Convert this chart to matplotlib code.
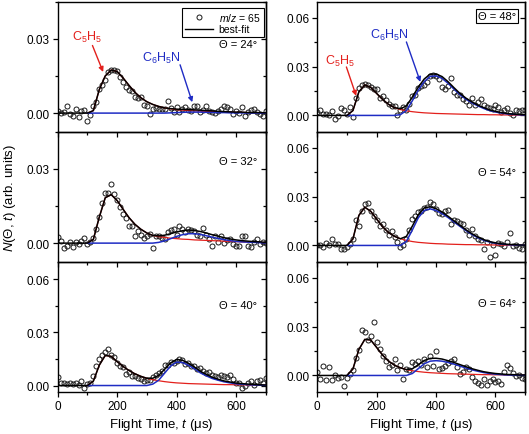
import numpy as np
import matplotlib
matplotlib.use('Agg')
import matplotlib.pyplot as plt
from matplotlib.lines import Line2D
from matplotlib.ticker import MultipleLocator, FormatStrFormatter

plt.rcParams['font.family'] = ['Liberation Sans', 'DejaVu Sans']
plt.rcParams['mathtext.fontset'] = 'custom'
plt.rcParams['mathtext.rm'] = 'Liberation Sans'
plt.rcParams['mathtext.it'] = 'Liberation Sans:italic'
plt.rcParams['mathtext.bf'] = 'Liberation Sans:bold'

# ---------------- data ----------------
T_POINTS = list(range(0, 701, 10))   # flight time of data points (us)
T_FIT = list(range(0, 701, 20))      # flight time of fit curves (us)
ANGLES = [24, 32, 40, 48, 54, 64]

DATA_24 = [0.0010, 0.0000, 0.0005, 0.0028, -0.0005, -0.0010, 0.0015, -0.0015, 0.0008, 0.0012,
           -0.0030, -0.0007, 0.0028, 0.0045, 0.0098, 0.0115, 0.0135, 0.0165, 0.0175, 0.0175,
           0.0170, 0.0145, 0.0125, 0.0105, 0.0095, 0.0088, 0.0065, 0.0062, 0.0063, 0.0033,
           0.0030, -0.0005, 0.0018, 0.0020, 0.0017, 0.0018, 0.0015, 0.0050, 0.0022, 0.0004,
           0.0024, 0.0005, 0.0017, 0.0024, 0.0012, 0.0007, 0.0028, 0.0030, 0.0004, 0.0013,
           0.0027, 0.0008, 0.0004, 0.0001, 0.0010, 0.0017, 0.0028, 0.0024, 0.0015, -0.0003,
           0.0010, 0.0001, 0.0024, -0.0012, 0.0004, 0.0011, 0.0018, 0.0005, -0.0003, -0.0010,
           0.0008]
DATA_32 = [0.0023, 0.0009, -0.0021, -0.0013, 0.0005, -0.0017, 0.0003, -0.0004, 0.0009, 0.0019,
           -0.0004, 0.0003, 0.0019, 0.0056, 0.0107, 0.0163, 0.0201, 0.0204, 0.0237, 0.0200,
           0.0174, 0.0147, 0.0117, 0.0103, 0.0070, 0.0070, 0.0029, 0.0050, 0.0032, 0.0019,
           0.0029, 0.0036, -0.0021, 0.0029, 0.0027, 0.0019, 0.0016, 0.0043, 0.0054, 0.0056,
           0.0032, 0.0070, 0.0056, 0.0046, 0.0059, 0.0054, 0.0050, 0.0032, 0.0029, 0.0062,
           0.0032, 0.0016, -0.0013, 0.0027, 0.0005, 0.0029, 0.0000, 0.0013, 0.0016, -0.0004,
           -0.0011, -0.0013, 0.0027, 0.0027, -0.0011, -0.0016, 0.0005, 0.0016, -0.0004, 0.0005,
           0.0000]
DATA_40 = [0.0047, 0.0015, 0.0015, 0.0009, 0.0015, 0.0009, 0.0015, 0.0004, 0.0025, -0.0015,
           0.0009, 0.0015, 0.0056, 0.0113, 0.0150, 0.0173, 0.0191, 0.0205, 0.0175, 0.0160,
           0.0128, 0.0113, 0.0103, 0.0066, 0.0075, 0.0056, 0.0053, 0.0041, 0.0038, 0.0023,
           0.0030, 0.0034, 0.0047, 0.0060, 0.0071, 0.0084, 0.0116, 0.0116, 0.0135, 0.0128,
           0.0141, 0.0150, 0.0144, 0.0122, 0.0128, 0.0113, 0.0109, 0.0094, 0.0098, 0.0084,
           0.0071, 0.0075, 0.0060, 0.0053, 0.0047, 0.0060, 0.0053, 0.0047, 0.0060, 0.0038,
           0.0015, 0.0015, -0.0015, -0.0004, 0.0015, 0.0028, 0.0004, 0.0028, 0.0034, 0.0015,
           0.0045]
DATA_48 = [0.0021, 0.0031, 0.0010, 0.0010, 0.0000, 0.0025, -0.0021, -0.0004, 0.0045, 0.0031,
           0.0010, 0.0051, -0.0010, 0.0107, 0.0168, 0.0185, 0.0193, 0.0189, 0.0174, 0.0164,
           0.0160, 0.0107, 0.0119, 0.0092, 0.0072, 0.0057, 0.0057, 0.0000, 0.0031, 0.0051,
           0.0031, 0.0072, 0.0119, 0.0127, 0.0168, 0.0180, 0.0189, 0.0205, 0.0242, 0.0250,
           0.0242, 0.0226, 0.0174, 0.0164, 0.0180, 0.0230, 0.0144, 0.0127, 0.0123, 0.0103,
           0.0086, 0.0066, 0.0107, 0.0066, 0.0082, 0.0103, 0.0062, 0.0051, 0.0045, 0.0041,
           0.0062, 0.0051, 0.0021, 0.0031, 0.0045, 0.0016, 0.0004, 0.0031, 0.0025, 0.0035,
           0.0031]
DATA_54 = [0.0000, 0.0004, -0.0010, 0.0016, 0.0004, 0.0041, 0.0010, 0.0010, -0.0020, -0.0024,
           -0.0010, 0.0010, 0.0041, 0.0159, 0.0122, 0.0214, 0.0255, 0.0261, 0.0214, 0.0180,
           0.0159, 0.0122, 0.0133, 0.0092, 0.0065, 0.0086, 0.0051, 0.0024, -0.0010, 0.0004,
           0.0041, 0.0092, 0.0163, 0.0180, 0.0204, 0.0214, 0.0228, 0.0235, 0.0265, 0.0255,
           0.0224, 0.0200, 0.0192, 0.0214, 0.0218, 0.0133, 0.0159, 0.0151, 0.0139, 0.0133,
           0.0092, 0.0065, 0.0102, 0.0061, 0.0041, 0.0031, -0.0024, 0.0020, -0.0070, 0.0004,
           -0.0057, 0.0016, 0.0010, -0.0004, 0.0024, 0.0078, -0.0004, 0.0004, -0.0016, -0.0024,
           0.0010]
DATA_64 = [0.0020, -0.0024, 0.0061, -0.0025, 0.0050, -0.0030, 0.0000, -0.0016, -0.0010, -0.0065,
           -0.0016, 0.0010, 0.0031, 0.0106, 0.0159, 0.0282, 0.0265, 0.0220, 0.0245, 0.0330,
           0.0204, 0.0163, 0.0122, 0.0092, 0.0051, 0.0065, 0.0102, 0.0031, 0.0065, -0.0024,
           0.0041, 0.0031, 0.0082, 0.0071, 0.0092, 0.0065, 0.0102, 0.0051, 0.0118, 0.0061,
           0.0153, 0.0041, 0.0045, 0.0061, 0.0078, 0.0086, 0.0102, 0.0051, 0.0010, 0.0020,
           0.0051, 0.0041, -0.0010, -0.0031, -0.0045, -0.0057, -0.0020, -0.0057, -0.0037, -0.0020,
           -0.0041, -0.0031, -0.0051, 0.0024, 0.0065, 0.0045, 0.0016, -0.0004, 0.0000, -0.0016,
           -0.0024]

# C5H5 component (red)
C5H5_24 = [0, 0, 0, 0, 0, 0, 0.0010, 0.0095, 0.0150, 0.0174, 0.0168, 0.0142, 0.0112, 0.0084,
           0.0062, 0.0046, 0.0035, 0.0027, 0.0021, 0.0017, 0.0014, 0.0012, 0.0010, 0.0009,
           0.0008, 0.0007, 0.0006, 0.0005, 0.0004, 0.0004, 0.0003, 0.0003, 0.0002, 0.0002,
           0.0002, 0.0001]
C5H5_32 = [0, 0, 0, 0, 0, 0, 0.0015, 0.0105, 0.0183, 0.0196, 0.0172, 0.0137, 0.0103, 0.0076,
           0.0056, 0.0041, 0.0031, 0.0026, 0.0023, 0.0020, 0.0018, 0.0016, 0.0015, 0.0013,
           0.0012, 0.0011, 0.0010, 0.0009, 0.0008, 0.0007, 0.0006, 0.0005, 0.0004, 0.0003,
           0.0003, 0.0002]
C5H5_40 = [0, 0, 0, 0, 0, 0, 0.0025, 0.0115, 0.0170, 0.0165, 0.0135, 0.0108, 0.0085, 0.0066,
           0.0052, 0.0041, 0.0033, 0.0027, 0.0022, 0.0018, 0.0015, 0.0013, 0.0011, 0.0010,
           0.0009, 0.0008, 0.0007, 0.0006, 0.0005, 0.0005, 0.0004, 0.0004, 0.0003, 0.0003,
           0.0002, 0.0002]
C5H5_48 = [0, 0, 0, 0, 0, 0, 0.0030, 0.0145, 0.0188, 0.0172, 0.0135, 0.0098, 0.0068, 0.0048,
           0.0036, 0.0028, 0.0023, 0.0019, 0.0016, 0.0014, 0.0012, 0.0011, 0.0010, 0.0009,
           0.0008, 0.0007, 0.0006, 0.0005, 0.0005, 0.0004, 0.0004, 0.0003, 0.0003, 0.0002,
           0.0002, 0.0002]
C5H5_54 = [0, 0, 0, 0, 0, 0, 0.0040, 0.0185, 0.0235, 0.0210, 0.0162, 0.0115, 0.0079, 0.0056,
           0.0041, 0.0031, 0.0024, 0.0019, 0.0016, 0.0013, 0.0011, 0.0010, 0.0008, 0.0007,
           0.0006, 0.0005, 0.0005, 0.0004, 0.0004, 0.0003, 0.0003, 0.0002, 0.0002, 0.0002,
           0.0001, 0.0001]
C5H5_64 = [0, 0, 0, 0, 0, 0, 0.0040, 0.0160, 0.0222, 0.0218, 0.0172, 0.0125, 0.0088, 0.0063,
           0.0047, 0.0036, 0.0029, 0.0024, 0.0020, 0.0017, 0.0015, 0.0013, 0.0011, 0.0010,
           0.0009, 0.0008, 0.0007, 0.0006, 0.0005, 0.0005, 0.0004, 0.0004, 0.0003, 0.0003,
           0.0002, 0.0002]

# C6H5N component (blue)
C6H5N_24 = [0, 0, 0, 0, 0, 0, 0, 0, 0, 0, 0, 0, 0, 0, 0, 0, 0, 0, 0,
            0.0001, 0.0002, 0.0003, 0.0004, 0.0004, 0.0004, 0.0003, 0.0003, 0.0002, 0.0002,
            0.0001, 0.0001, 0.0001, 0, 0, 0, 0]
C6H5N_32 = [0, 0, 0, 0, 0, 0, 0, 0, 0, 0, 0, 0, 0, 0, 0, 0, 0,
            0.0003, 0.0009, 0.0018, 0.0027, 0.0034, 0.0038, 0.0038, 0.0035, 0.0030, 0.0024,
            0.0019, 0.0014, 0.0010, 0.0007, 0.0005, 0.0004, 0.0003, 0.0002, 0.0001]
C6H5N_40 = [0, 0, 0, 0, 0, 0, 0, 0, 0, 0, 0, 0, 0, 0, 0, 0,
            0.0008, 0.0030, 0.0070, 0.0110, 0.0132, 0.0130, 0.0115, 0.0095, 0.0072, 0.0055,
            0.0040, 0.0030, 0.0021, 0.0015, 0.0010, 0.0007, 0.0005, 0.0003, 0.0002, 0.0001]
C6H5N_48 = [0, 0, 0, 0, 0, 0, 0, 0, 0, 0, 0, 0, 0, 0,
            0.0005, 0.0030, 0.0090, 0.0155, 0.0208, 0.0240, 0.0243, 0.0228, 0.0198, 0.0162,
            0.0128, 0.0100, 0.0078, 0.0059, 0.0043, 0.0030, 0.0021, 0.0014, 0.0009, 0.0006,
            0.0004, 0.0002]
C6H5N_54 = [0, 0, 0, 0, 0, 0, 0, 0, 0, 0, 0, 0, 0, 0, 0,
            0.0025, 0.0095, 0.0170, 0.0215, 0.0225, 0.0215, 0.0196, 0.0172, 0.0145, 0.0118,
            0.0092, 0.0068, 0.0048, 0.0032, 0.0021, 0.0013, 0.0008, 0.0005, 0.0003, 0.0002,
            0.0001]
C6H5N_64 = [0, 0, 0, 0, 0, 0, 0, 0, 0, 0, 0, 0, 0, 0, 0, 0,
            0.0012, 0.0042, 0.0072, 0.0088, 0.0091, 0.0088, 0.0080, 0.0070, 0.0058, 0.0046,
            0.0035, 0.0026, 0.0018, 0.0012, 0.0008, 0.0005, 0.0003, 0.0002, 0.0001, 0.0001]

DATA = [DATA_24, DATA_32, DATA_40, DATA_48, DATA_54, DATA_64]
RED = [C5H5_24, C5H5_32, C5H5_40, C5H5_48, C5H5_54, C5H5_64]
BLUE = [C6H5N_24, C6H5N_32, C6H5N_40, C6H5N_48, C6H5N_54, C6H5N_64]

# ---------------- style / layout ----------------
RED_C = '#e3201c'
BLUE_C = '#1f2cc4'
COMP_START = 100  # components drawn from here

fig = plt.figure(figsize=(5.29, 4.35), dpi=100)
lefts = [0.1091, 0.5998]
width = 0.393
bottoms = [0.6950, 0.3961, 0.0972]
height = 0.2989

ylims = {0: [(-0.0075, 0.045), (-0.0075, 0.045), (-0.0035, 0.07)],
         1: [(-0.01, 0.07), (-0.01, 0.07), (-0.01, 0.07)]}
theta_pos = [(0.96, 0.677), (0.96, 0.772), (0.96, 0.67),
             (0.955, 0.89), (0.957, 0.69), (0.957, 0.685)]

t_fit = np.array(T_FIT)
mask = t_fit >= COMP_START

axes = []
for i in range(6):
    col = i // 3
    row = i % 3
    ax = fig.add_axes([lefts[col], bottoms[row], width, height])
    ax.patch.set_visible(False)
    axes.append(ax)
    red = np.array(RED[i])
    blue = np.array(BLUE[i])
    total = red + blue
    ax.plot(T_POINTS, DATA[i], ls='none', marker='o', ms=3.6, mfc='none',
            mec='#1a1a1a', mew=0.7, zorder=2)
    ax.plot(t_fit[mask], red[mask], color=RED_C, lw=0.9, zorder=3)
    ax.plot(t_fit[mask], blue[mask], color=BLUE_C, lw=1.1, zorder=4)
    ax.plot(t_fit, total, color='black', lw=1.1, zorder=5)

    ax.set_xlim(0, 700)
    ax.set_ylim(*ylims[col][row])
    ax.xaxis.set_major_locator(MultipleLocator(200))
    ax.xaxis.set_minor_locator(MultipleLocator(100))
    ax.yaxis.set_major_locator(MultipleLocator(0.03))
    ax.yaxis.set_minor_locator(MultipleLocator(0.015))
    ax.yaxis.set_major_formatter(FormatStrFormatter('%.2f'))
    ax.tick_params(which='major', direction='out', length=3.8, width=0.9,
                   labelsize=8.5, pad=2)
    ax.tick_params(which='minor', direction='out', length=2.2, width=0.9)
    for sp in ax.spines.values():
        sp.set_linewidth(1.0)
    sec = ax.secondary_yaxis('right')
    sec.yaxis.set_major_locator(MultipleLocator(0.03))
    sec.yaxis.set_minor_locator(MultipleLocator(0.015))
    sec.tick_params(which='major', direction='in', length=3.8, width=0.9, labelright=False)
    sec.tick_params(which='minor', direction='in', length=2.2, width=0.9)
    sec.spines['right'].set_linewidth(1.0)
    if row < 2:
        ax.tick_params(labelbottom=False)
    else:
        ax.set_xlabel('Flight Time, $t$ (μs)', fontsize=9.5, labelpad=3)

    tx, ty = theta_pos[i]
    label = 'Θ = %d°' % ANGLES[i]
    if ANGLES[i] == 48:
        ax.text(tx, ty, label, transform=ax.transAxes, ha='right', va='center',
                fontsize=8, bbox=dict(boxstyle='square,pad=0.15', fc='white',
                                      ec='black', lw=0.8))
    else:
        ax.text(tx, ty, label, transform=ax.transAxes, ha='right', va='center',
                fontsize=8)

arrow_kw = dict(arrowstyle='-|>', lw=1.0, mutation_scale=7, shrinkA=0, shrinkB=0)

# panel 24 deg annotations + legend
ax = axes[0]
ax.text(98, 0.0311, 'C$_5$H$_5$', color=RED_C, ha='center', va='center', fontsize=9)
ax.annotate('', xy=(153, 0.0166), xytext=(117, 0.0273),
            arrowprops=dict(color=RED_C, **arrow_kw))
ax.text(348, 0.0226, 'C$_6$H$_5$N', color=BLUE_C, ha='center', va='center', fontsize=9)
ax.annotate('', xy=(453, 0.0044), xytext=(412, 0.0195),
            arrowprops=dict(color=BLUE_C, **arrow_kw))
handles = [Line2D([], [], ls='none', marker='o', ms=3.6, mfc='none', mec='#1a1a1a',
                  mew=0.7, label='$m/z$ = 65'),
           Line2D([], [], color='black', lw=1.0, label='best-fit')]
leg = ax.legend(handles=handles, loc='upper right', bbox_to_anchor=(0.99, 0.955),
                borderaxespad=0, fontsize=7.5, handlelength=2.6, handletextpad=0.6,
                labelspacing=0.15, borderpad=0.3, fancybox=False, framealpha=1,
                edgecolor='black')
leg.get_frame().set_linewidth(0.8)

# panel 48 deg annotations
ax = axes[3]
ax.text(77, 0.0339, 'C$_5$H$_5$', color=RED_C, ha='center', va='center', fontsize=9)
ax.annotate('', xy=(131, 0.0120), xytext=(98, 0.0298),
            arrowprops=dict(color=RED_C, **arrow_kw))
ax.text(242, 0.0499, 'C$_6$H$_5$N', color=BLUE_C, ha='center', va='center', fontsize=9)
ax.annotate('', xy=(347, 0.0206), xytext=(300, 0.0452),
            arrowprops=dict(color=BLUE_C, **arrow_kw))

fig.text(0.018, 0.545, '$N$(Θ, $t$) (arb. units)', rotation=90, ha='center',
         va='center', fontsize=9.5)

fig.savefig('out.png', dpi=100)
